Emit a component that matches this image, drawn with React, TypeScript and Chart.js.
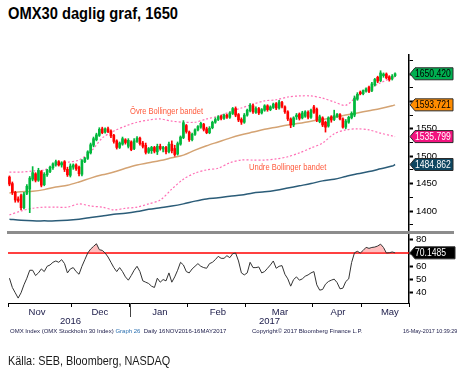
import React, { useEffect, useRef } from 'react';
import { Chart, registerables } from 'chart.js';

Chart.register(...registerables);

const FONT = "'Liberation Sans', Arial, sans-serif";

// ---- Candles (trading days, 31 Oct 2016 .. 16 May 2017) ----
const opens = [
  1462, 1450, 1434, 1422, 1428, 1406, 1432, 1440, 1458, 1468,
  1456, 1472, 1448, 1466, 1472, 1479, 1485, 1490, 1484, 1490,
  1476, 1465, 1480, 1484, 1480, 1467, 1490, 1496, 1506, 1520,
  1530, 1538, 1550, 1544, 1550, 1546, 1538, 1528, 1516, 1522,
  1530, 1518, 1526, 1514, 1527, 1533, 1524, 1520, 1507, 1510,
  1516, 1508, 1518, 1513, 1516, 1508, 1522, 1514, 1504, 1522,
  1534, 1556, 1544, 1530, 1540, 1548, 1553, 1558, 1550, 1543,
  1552, 1562, 1567, 1573, 1569, 1575, 1571, 1578, 1587, 1576,
  1567, 1562, 1575, 1583, 1592, 1580, 1587, 1579, 1584, 1592,
  1585, 1589, 1596, 1588, 1598, 1590, 1581, 1568, 1557, 1572,
  1577, 1570, 1573, 1580, 1571, 1590, 1586, 1563, 1570, 1562,
  1555, 1572, 1567, 1573, 1576, 1568, 1553, 1562, 1570, 1575,
  1604, 1617, 1614, 1619, 1626, 1620, 1630, 1644, 1638, 1647,
  1650, 1645, 1641, 1647,
];
const highs = [
  1464, 1453, 1436, 1426, 1431, 1434, 1448, 1463, 1481, 1470,
  1478, 1474, 1470, 1476, 1482, 1488, 1493, 1492, 1490, 1492,
  1480, 1486, 1486, 1486, 1482, 1494, 1498, 1510, 1524, 1535,
  1542, 1552, 1553, 1552, 1553, 1548, 1540, 1530, 1526, 1535,
  1532, 1532, 1528, 1532, 1536, 1535, 1527, 1524, 1516, 1518,
  1518, 1522, 1522, 1518, 1518, 1526, 1528, 1520, 1526, 1537,
  1565, 1558, 1546, 1542, 1550, 1556, 1562, 1560, 1553, 1554,
  1564, 1570, 1574, 1575, 1577, 1577, 1581, 1589, 1590, 1578,
  1570, 1578, 1586, 1596, 1595, 1590, 1589, 1587, 1594, 1594,
  1592, 1597, 1598, 1602, 1600, 1592, 1583, 1570, 1572, 1578,
  1579, 1582, 1583, 1583, 1586, 1593, 1588, 1575, 1572, 1564,
  1572, 1574, 1584, 1578, 1578, 1570, 1567, 1573, 1581, 1610,
  1616, 1619, 1621, 1625, 1628, 1635, 1642, 1646, 1656, 1652,
  1652, 1647, 1649, 1652,
];
const lows = [
  1446, 1430, 1416, 1416, 1402, 1404, 1430, 1397, 1455, 1453,
  1454, 1444, 1446, 1463, 1470, 1476, 1482, 1482, 1480, 1472,
  1463, 1462, 1476, 1474, 1464, 1464, 1488, 1494, 1504, 1517,
  1528, 1536, 1541, 1542, 1543, 1534, 1524, 1513, 1514, 1520,
  1522, 1515, 1510, 1512, 1525, 1520, 1515, 1504, 1505, 1505,
  1506, 1503, 1511, 1508, 1504, 1506, 1506, 1500, 1502, 1520,
  1532, 1542, 1527, 1528, 1538, 1546, 1551, 1546, 1541, 1541,
  1550, 1560, 1565, 1566, 1567, 1569, 1569, 1576, 1572, 1563,
  1558, 1560, 1573, 1581, 1578, 1578, 1576, 1577, 1582, 1582,
  1583, 1587, 1585, 1586, 1588, 1578, 1565, 1552, 1554, 1567,
  1566, 1568, 1571, 1568, 1569, 1578, 1563, 1561, 1554, 1544,
  1553, 1562, 1565, 1571, 1566, 1551, 1550, 1560, 1568, 1572,
  1602, 1612, 1612, 1617, 1616, 1618, 1628, 1634, 1636, 1644,
  1641, 1637, 1639, 1645,
];
const closes = [
  1449, 1434, 1420, 1419, 1406, 1431, 1445, 1460, 1470, 1456,
  1474, 1447, 1467, 1474, 1480, 1486, 1490, 1484, 1488, 1476,
  1466, 1482, 1484, 1477, 1468, 1492, 1496, 1508, 1521, 1532,
  1539, 1549, 1543, 1550, 1545, 1537, 1527, 1516, 1524, 1532,
  1525, 1529, 1512, 1528, 1533, 1523, 1518, 1507, 1514, 1516,
  1509, 1518, 1514, 1516, 1508, 1522, 1510, 1503, 1523, 1535,
  1561, 1545, 1530, 1540, 1548, 1554, 1560, 1549, 1543, 1551,
  1562, 1567, 1572, 1569, 1575, 1571, 1579, 1587, 1575, 1566,
  1562, 1575, 1584, 1593, 1581, 1587, 1579, 1585, 1592, 1585,
  1590, 1595, 1588, 1599, 1591, 1581, 1568, 1557, 1570, 1575,
  1569, 1579, 1581, 1571, 1584, 1580, 1566, 1572, 1557, 1553,
  1570, 1566, 1574, 1577, 1568, 1553, 1564, 1571, 1578, 1606,
  1613, 1614, 1620, 1623, 1618, 1632, 1640, 1637, 1652, 1650,
  1643, 1640, 1646, 1650.42,
];

// ---- Overlays, sampled at these trading-day indices ----
const lineIdx = [
  0, 4, 8, 12, 16, 20, 24, 28, 32, 36, 40, 44, 48, 52, 56, 60, 64, 68,
  72, 76, 80, 84, 88, 92, 96, 100, 104, 108, 112, 116, 120, 124, 128, 132, 133,
];
const upperBand = [
  1471, 1471, 1473, 1475, 1484, 1489, 1493, 1508, 1533, 1546, 1555, 1562, 1566, 1568, 1564, 1562, 1562, 1568,
  1573, 1581, 1588, 1595, 1601, 1603, 1608, 1610, 1610, 1606, 1599, 1593, 1610, 1623, 1634, 1643, 1645,
];
const lowerBand = [
  1393, 1400, 1405, 1407, 1407, 1407, 1413, 1409, 1407, 1402, 1405, 1407, 1413, 1420, 1440, 1458, 1469, 1475,
  1478, 1488, 1493, 1493, 1493, 1495, 1499, 1506, 1515, 1524, 1541, 1548, 1550, 1548, 1542, 1537, 1535.799,
];
const ma50 = [
  1433, 1435, 1436, 1439, 1444, 1447, 1453, 1460, 1466, 1471, 1478, 1484, 1488, 1492, 1497, 1502, 1511, 1519,
  1526, 1533, 1539, 1544, 1549, 1553, 1557, 1560, 1564, 1567, 1571, 1575, 1579, 1583, 1587, 1592, 1593.721,
];
const ma200 = [
  1385, 1383, 1382, 1382, 1382, 1383, 1385, 1388, 1391, 1394, 1396, 1399, 1403, 1406, 1409, 1413, 1418, 1422,
  1424, 1427, 1429, 1433, 1435, 1438, 1442, 1446, 1450, 1455, 1458, 1463, 1468, 1472, 1477, 1482, 1484.862,
];

// ---- RSI (one value per candle) ----
const rsi = [
  51, 44, 40, 36, 40, 46, 51, 57, 57, 53,
  55, 58, 56, 60, 61, 63, 64, 63, 65, 62,
  55, 58, 59, 56, 54, 60, 65, 70, 73, 75,
  77, 72.5, 72, 70, 67, 63, 59, 56, 59, 56,
  52, 49.5, 53, 57, 60, 56, 49, 48, 47, 45,
  44, 51, 48, 50, 49, 55, 48, 52, 57, 63,
  61, 56, 55, 58, 60, 62, 60, 59, 58.5, 62,
  63, 65, 67.5, 66, 66, 68, 66.5, 69.5, 70, 64,
  55, 53.5, 55, 63, 59, 59, 59.5, 55, 56, 58.5,
  61, 64, 58.5, 60, 60.5, 54, 50.5, 45, 50, 52,
  49.5, 50.5, 52.5, 53.5, 55, 56, 46, 42, 42.5, 46.5,
  48.5, 49.5, 50.3, 47.7, 43, 43.5, 48.5, 50.5, 62.8, 70.2,
  71.3, 70, 72, 74.3, 73.5, 74.2, 74.5, 75.3, 76.7, 74.2,
  70, 70.2, 70.8, 70.1485,
];
const rsiLevel = 70;

// ---- Axes ----
const monthNames = ['Nov', 'Dec', 'Jan', 'Feb', 'Mar', 'Apr', 'May'];
const monthBounds = [-0.5, 21.5, 41.5, 61.5, 81.5, 104.5, 121.5, 137.8];
const monthLabelAt = [9.5, 31.2, 51.9, 71.9, 93.3, 113.3, 131.2];
const xMin = -0.5;
const xMax = 137.8;
const priceMin = 1363.5;
const priceMax = 1684.7;
const priceStep = 25;
const priceLabelStep = 50;
const rsiMin = 32.3;
const rsiMax = 83.6;
const rsiStep = 10;

const UP = '#00b83c';
const DOWN = '#ff0000';
const candleColor = (i: number) => (closes[i] >= opens[i] ? UP : DOWN);
const last = (a: number[]) => a[a.length - 1];

const priceTags = [
  { value: last(closes), digits: 3, bg: '#00b050', fg: '#000' },
  { value: last(ma50), digits: 3, bg: '#ff8c00', fg: '#000' },
  { value: last(lowerBand), digits: 3, bg: '#f2137f', fg: '#fff' },
  { value: last(ma200), digits: 3, bg: '#0e4660', fg: '#fff' },
];

function drawTag(ctx: CanvasRenderingContext2D, x: number, y: number, label: string, bg: string, fg: string, w: number) {
  const h = 6;
  ctx.save();
  ctx.beginPath();
  ctx.moveTo(x, y);
  ctx.lineTo(x + 5, y - h);
  ctx.lineTo(x + w, y - h);
  ctx.lineTo(x + w, y + h);
  ctx.lineTo(x + 5, y + h);
  ctx.closePath();
  ctx.fillStyle = bg;
  ctx.fill();
  ctx.strokeStyle = '#2a2a2a';
  ctx.lineWidth = 1;
  ctx.stroke();
  ctx.fillStyle = fg;
  ctx.font = `10.5px ${FONT}`;
  ctx.textBaseline = 'middle';
  ctx.textAlign = 'left';
  ctx.translate(x + 5, y + 0.5);
  ctx.scale(0.82, 1);
  ctx.fillText(label, 0, 0);
  ctx.restore();
}

const makeTagPlugin = (tags: { value: number; digits: number; bg: string; fg: string }[], w: number) => ({
  id: 'valueTags',
  afterDraw(chart: any) {
    const ys = chart.scales.y;
    const x = chart.chartArea.right + 1;
    tags.forEach((t) => {
      drawTag(chart.ctx, x, ys.getPixelForValue(t.value), t.value.toFixed(t.digits), t.bg, t.fg, w);
    });
  },
});

export default function App() {
  const priceRef = useRef<HTMLCanvasElement>(null);
  const rsiRef = useRef<HTMLCanvasElement>(null);

  useEffect(() => {
    const idx = closes.map((_, i) => i);
    const toPts = (vals: number[]) => vals.map((v, k) => ({ x: lineIdx[k], y: v }));

    const priceChart = new Chart(priceRef.current as HTMLCanvasElement, {
      type: 'bar',
      data: {
        datasets: [
          {
            type: 'bar',
            data: idx.map((i) => ({ x: i, y: [opens[i], closes[i]] })),
            backgroundColor: idx.map(candleColor),
            borderWidth: 0,
            barThickness: 2,
            grouped: false,
            order: 0,
          } as any,
          {
            type: 'bar',
            data: idx.map((i) => ({ x: i, y: [lows[i], highs[i]] })),
            backgroundColor: idx.map(candleColor),
            borderWidth: 0,
            barThickness: 1,
            grouped: false,
            order: 1,
          } as any,
          {
            type: 'line',
            data: toPts(upperBand),
            borderColor: '#ff6fb5',
            borderWidth: 1.2,
            borderDash: [2, 2],
            pointRadius: 0,
            tension: 0.3,
            order: 2,
          } as any,
          {
            type: 'line',
            data: toPts(lowerBand),
            borderColor: '#ff6fb5',
            borderWidth: 1.2,
            borderDash: [2, 2],
            pointRadius: 0,
            tension: 0.3,
            order: 3,
          } as any,
          {
            type: 'line',
            data: toPts(ma50),
            borderColor: '#d4a373',
            borderWidth: 1.5,
            pointRadius: 0,
            tension: 0.3,
            order: 4,
          } as any,
          {
            type: 'line',
            data: toPts(ma200),
            borderColor: '#2b5c78',
            borderWidth: 1.5,
            pointRadius: 0,
            tension: 0.3,
            order: 5,
          } as any,
        ],
      },
      options: {
        responsive: false,
        animation: false,
        events: [],
        layout: { padding: { left: 8, top: 55, right: 0, bottom: 10 } },
        plugins: { legend: { display: false }, tooltip: { enabled: false } },
        scales: {
          x: { type: 'linear', min: xMin, max: xMax, offset: false, display: false },
          y: {
            type: 'linear',
            position: 'right',
            min: priceMin,
            max: priceMax,
            afterFit: (s: any) => {
              s.width = 51;
            },
            grid: {
              drawOnChartArea: false,
              tickLength: 4,
              tickColor: '#000',
              tickWidth: (c: any) => (c.tick && c.tick.value % priceLabelStep === 0 ? 2 : 1),
            },
            border: { display: true, color: '#000', width: 1.5 },
            ticks: {
              stepSize: priceStep,
              includeBounds: false,
              autoSkip: false,
              padding: 3,
              color: '#000',
              font: { family: FONT, size: 9.5 },
              callback: (v: any) => {
                const n = Number(v);
                if (n % priceLabelStep !== 0) return '';
                if (priceTags.some((t) => Math.abs(t.value - n) < 12)) return '';
                return String(n);
              },
            },
          },
        },
      } as any,
      plugins: [makeTagPlugin(priceTags, 43)],
    });

    const rsiChart = new Chart(rsiRef.current as HTMLCanvasElement, {
      type: 'line',
      data: {
        datasets: [
          {
            data: idx.map((i) => ({ x: i, y: rsi[i] })),
            borderColor: '#333',
            borderWidth: 1,
            pointRadius: 0,
            tension: 0,
            fill: { target: { value: rsiLevel }, above: 'rgba(255,110,110,0.45)', below: 'rgba(0,0,0,0)' },
            order: 0,
          } as any,
          {
            data: [
              { x: xMin, y: rsiLevel },
              { x: xMax, y: rsiLevel },
            ],
            borderColor: '#ff0000',
            borderWidth: 1.5,
            pointRadius: 0,
            order: 1,
          },
        ],
      },
      options: {
        responsive: false,
        animation: false,
        events: [],
        layout: { padding: { left: 8, top: 10, right: 0, bottom: 0 } },
        plugins: { legend: { display: false }, tooltip: { enabled: false } },
        scales: {
          x: {
            type: 'linear',
            min: xMin,
            max: xMax,
            offset: false,
            afterBuildTicks: (s: any) => {
              s.ticks = [...monthBounds.map((v) => ({ value: v })), ...monthLabelAt.map((v) => ({ value: v }))];
            },
            afterFit: (s: any) => {
              s.height = 66;
            },
            grid: {
              drawOnChartArea: false,
              tickLength: 4,
              tickWidth: 1,
              tickColor: (c: any) => (c.index < monthBounds.length ? '#000' : 'rgba(0,0,0,0)'),
            },
            border: { display: true, color: '#000', width: 1 },
            ticks: {
              autoSkip: false,
              maxRotation: 0,
              minRotation: 0,
              padding: 0,
              color: '#1a1a48',
              font: { family: FONT, size: 9.5 },
              callback: (_v: any, i: number) => (i >= monthBounds.length ? monthNames[i - monthBounds.length] : ''),
            },
          },
          y: {
            type: 'linear',
            position: 'right',
            min: rsiMin,
            max: rsiMax,
            afterFit: (s: any) => {
              s.width = 51;
            },
            grid: { drawOnChartArea: false, tickLength: 4, tickColor: '#000', tickWidth: 2 },
            border: { display: true, color: '#000', width: 1.5 },
            ticks: {
              stepSize: rsiStep,
              includeBounds: false,
              padding: 3,
              color: '#000',
              font: { family: FONT, size: 9.5 },
            },
          },
        },
      } as any,
      plugins: [makeTagPlugin([{ value: last(rsi), digits: 4, bg: '#000', fg: '#fff' }], 45)],
    });

    return () => {
      priceChart.destroy();
      rsiChart.destroy();
    };
  }, []);

  const abs = (o: React.CSSProperties): React.CSSProperties => ({
    position: 'absolute',
    margin: 0,
    whiteSpace: 'nowrap',
    transformOrigin: 'left top',
    ...o,
  });

  return (
    <div style={{ position: 'absolute', left: 0, top: 0, width: 460, height: 369, background: '#fff', overflow: 'hidden' }}>
      <div style={abs({ left: 8, top: 5, fontFamily: FONT, fontWeight: 'bold', fontSize: 17, lineHeight: '17px', color: '#000', transform: 'scaleX(0.865)' })}>
        OMX30 daglig graf, 1650
      </div>
      <canvas ref={priceRef} width={460} height={241} style={abs({ left: 0, top: 0, width: 460, height: 241 })} />
      <canvas ref={rsiRef} width={460} height={144} style={abs({ left: 0, top: 225, width: 460, height: 144 })} />
      <div style={abs({ left: 7, top: 231, width: 447, height: 3, background: '#8c8c8c' })} />
      <div style={abs({ left: 130, top: 107, fontFamily: FONT, fontSize: 9, lineHeight: '9px', color: '#ff5a3c', transform: 'scaleX(0.84)' })}>
        Övre Bollinger bandet
      </div>
      <div style={abs({ left: 249, top: 163, fontFamily: FONT, fontSize: 9, lineHeight: '9px', color: '#ff5a3c', transform: 'scaleX(0.84)' })}>
        Undre Bollinger bandet
      </div>
      <div style={abs({ left: 130, top: 303, width: 1, height: 14, background: '#444' })} />
      <div style={abs({ left: 60, top: 316, fontFamily: FONT, fontSize: 9.5, lineHeight: '10px', color: '#1a1a48' })}>2016</div>
      <div style={abs({ left: 259, top: 316, fontFamily: FONT, fontSize: 9.5, lineHeight: '10px', color: '#1a1a48' })}>2017</div>
      <div style={abs({ left: 10, top: 328, fontFamily: FONT, fontSize: 6, lineHeight: '6px', color: '#1a1a48' })}>
        OMX Index (OMX Stockholm 30 Index) <span style={{ color: '#2a6fb0' }}>Graph 26</span>&nbsp; Daily 16NOV2016-16MAY2017
      </div>
      <div style={abs({ left: 252, top: 328, fontFamily: FONT, fontSize: 6, lineHeight: '6px', color: '#1a1a48' })}>
        Copyright© 2017 Bloomberg Finance L.P.
      </div>
      <div style={abs({ left: 403, top: 328, fontFamily: FONT, fontSize: 6, lineHeight: '6px', color: '#1a1a48', transform: 'scaleX(0.9)' })}>
        16-May-2017 10:39:29
      </div>
      <div style={abs({ left: 8, top: 354, fontFamily: FONT, fontSize: 13, lineHeight: '13px', color: '#1a1a1a', transform: 'scaleX(0.835)' })}>
        Källa: SEB, Bloomberg, NASDAQ
      </div>
    </div>
  );
}
